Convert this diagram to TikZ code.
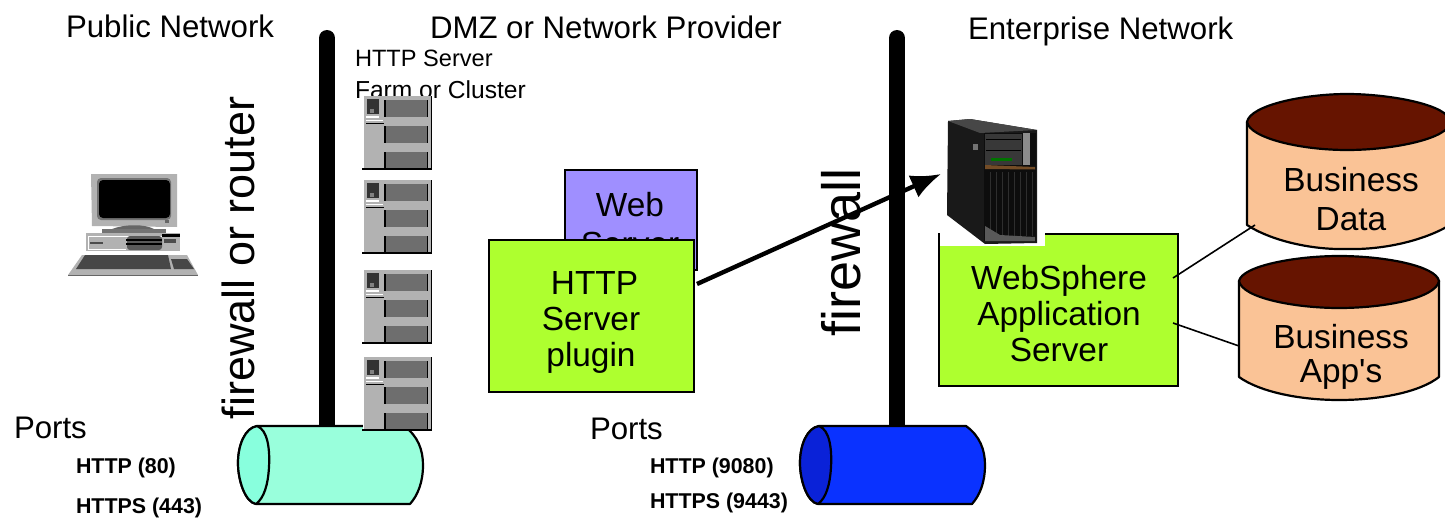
\documentclass[tikz,border=0pt]{standalone}
\usepackage{fontspec}
\setmainfont{Liberation Sans}[Ligatures=TeXOff]
\usetikzlibrary{arrows.meta}
\newcommand{\fsz}[1]{\fontsize{#1}{#1}\selectfont}
\definecolor{lime}{HTML}{AEFF2F}
\definecolor{violet}{HTML}{9F8FFF}
\definecolor{aqua}{HTML}{99FFDC}
\definecolor{aquaend}{HTML}{88FFDD}
\definecolor{royal}{HTML}{0A32FF}
\definecolor{royalend}{HTML}{0A22D8}
\definecolor{peach}{HTML}{FAC396}
\definecolor{maroon}{HTML}{661400}
\definecolor{iconlight}{HTML}{B2B2B2}
\definecolor{icondark}{HTML}{6E6E6E}
\tikzset{
  x=1pt,y=-1pt,
  txt/.style={inner sep=0pt,outer sep=0pt,font=\fsz{31.2},anchor=west},
  small/.style={inner sep=0pt,outer sep=0pt,font=\fsz{23.6},anchor=west},
  port/.style={inner sep=0pt,outer sep=0pt,font=\fsz{21.4}\bfseries,anchor=west},
  rail/.style={line width=16pt,line cap=round,black},
  box/.style={draw=black,line width=2pt,fill=lime,inner sep=0pt,outer sep=0pt,anchor=north west},
  label/.style={inner sep=0pt,outer sep=0pt,font=\fsz{33.4},align=center},
  cyl/.style={draw=black,line width=2.2pt,line join=round},
  link/.style={draw=black,line width=1.6pt},
  serverpic/.pic={
    \fill[iconlight] (0,0) rectangle (68,73);
    \draw[white,line width=1.4pt] (0.5,0) -- (0.5,73);
    \draw[black,line width=2pt] (-1,73) -- (69,73);
    \draw[black,line width=1.5pt] (68.5,0) -- (68.5,73);
    \fill[icondark] (23,4) rectangle (64,21);
    \fill[icondark] (23,30) rectangle (64,47);
    \fill[icondark] (23,56) rectangle (64,72);
    \foreach \t/\b in {4/21,30/47,56/72}{
      \draw[black,line width=1.4pt] (22,\t) -- (22,\b);
      \draw[black,line width=1.4pt] (64.5,\t) -- (64.5,\b);
    }
    \fill[black!80] (4,3) rectangle (16,18);
    \fill[gray] (7,13) rectangle (11,17);
    \draw[white,line width=1.5pt] (3,21) -- (16,21);
    \draw[white,line width=1.5pt] (3,24.5) -- (20,24.5);
    \draw[black,line width=1.8pt] (3,27.5) -- (21,27.5);
  },
}
\begin{document}
\begin{tikzpicture}
\useasboundingbox (0,0) rectangle (1445,519);
% headings
\node[txt] (pub) at (66,26) {Public Network};
\node[txt] (dmz) at (430,27) {DMZ or Network Provider};
\node[txt] (ent) at (968,31.5) {Enterprise Network};
\node[small] (farm1) at (355,58) {HTTP Server};
\node[small,font=\fsz{24.6}] (farm2) at (355,90) {Farm or Cluster};
% rails
\coordinate (r1t) at (327,38); \coordinate (r1b) at (327,432);
\coordinate (r2t) at (897,38); \coordinate (r2b) at (897,432);
\draw[rail] (r1t) -- (r1b);
\draw[rail] (r2t) -- (r2b);
% rotated labels
\node[inner sep=0pt,font=\fsz{45},rotate=90,anchor=center] (fw1) at (238,258) {firewall or router};
\node[inner sep=0pt,font=\fsz{54},rotate=90,anchor=center] (fw2) at (841,252) {firewall};
% aqua cylinder
\path[cyl,fill=aqua] (257,426) -- (404,426) .. controls (418,436) and (423,450) .. (423,465) .. controls (423,482) and (418,495) .. (410,504) -- (256,504) .. controls (245,502) and (238,480) .. (238,463) .. controls (238,445) and (245,428) .. (257,426) -- cycle;
\path[cyl,fill=aquaend] (257,426) .. controls (268,430) and (270,450) .. (269,467) .. controls (268,485) and (264,498) .. (256,504) .. controls (245,502) and (238,480) .. (238,463) .. controls (238,445) and (245,428) .. (257,426) -- cycle;
% blue cylinder
\path[cyl,fill=royal] (819,426) -- (966,426) .. controls (980,436) and (985,450) .. (985,465) .. controls (985,482) and (980,495) .. (972,504) -- (818,504) .. controls (807,502) and (800,480) .. (800,463) .. controls (800,445) and (807,428) .. (819,426) -- cycle;
\path[cyl,fill=royalend] (819,426) .. controls (830,430) and (832,450) .. (831,467) .. controls (830,485) and (826,498) .. (818,504) .. controls (807,502) and (800,480) .. (800,463) .. controls (800,445) and (807,428) .. (819,426) -- cycle;
% server stack
\pic at (363,96) {serverpic};
\pic at (363,180) {serverpic};
\pic at (363,270) {serverpic};
\pic at (363,357) {serverpic};
% PC
\fill[iconlight] (91,174) -- (177,174) -- (177,227) -- (92,226) -- cycle;
\fill[black!55,rounded corners=4pt] (97,178) rectangle (171,220);
\fill[black,rounded corners=4pt] (99,180) rectangle (170,218);
\fill[black!60] (165,220) rectangle (169,223);
\fill[black!60] (112,229) .. controls (125,224) and (145,224) .. (154,229) -- cycle;
\fill[black!55] (102,229) rectangle (166,233);
\fill[iconlight] (86,233) rectangle (180,251);
\draw[white,line width=1pt] (88,236) -- (162,236);
\draw[white,line width=1pt] (88,236) -- (88,249) -- (126,249);
\fill[black!65,rounded corners=3pt] (127,236) rectangle (162,250);
\draw[black,line width=1.3pt] (126,240) -- (162,240);
\draw[black,line width=1.3pt] (126,244) -- (162,244);
\fill[black] (162,234) rectangle (180,237);
\fill[black!70] (164,239) rectangle (176,243);
\fill[black!70] (90,242) rectangle (103,243.5);
\fill[iconlight] (68,275) -- (82,255) -- (187,255) -- (198,275) -- cycle;
\fill[black!72] (76,269) -- (85,255) -- (168,255) -- (171,269) -- cycle;
\fill[black!72] (171,259) -- (187,259) -- (194,269) -- (174,269) -- cycle;
\draw[black!60,line width=1pt] (68,275) -- (198,275);
% Web server (back)
\node[box,fill=violet,minimum width=132pt,minimum height=100pt] (web) at (565,170) {};
\node[label] (webt) at (630,224) {Web\\[6pt]Server};
% HTTP plugin
\node[box,minimum width=205pt,minimum height=152pt] (http) at (489,240) {};
\node[label] (httpt) at (591,322.5) {\hspace*{7pt}HTTP\\[3pt]Server\\[3pt]plugin};
% WebSphere box
\node[box,minimum width=239pt,minimum height=152pt] (was) at (939,234) {};
\node[label] (wast) at (1059,313.5) {WebSphere\\[3pt]Application\\[3pt]Server};
% tower
\fill[white] (940,230) rectangle (1045,246);
\fill[black!90] (948,121) -- (970,119) -- (1037,130) -- (1037,243) -- (985,244) -- (947,215) -- cycle;
\fill[black!72] (948,121) -- (970,119) -- (1037,130) -- (980,133) -- cycle;
\fill[black!95] (984,133) rectangle (1036,241);
\fill[black!78] (985,134) rectangle (1022,165);
\draw[black,line width=.8pt] (986,139) -- (1021,139);
\draw[black,line width=.8pt] (986,150) -- (1021,150);
\fill[black!45] (1023,133) rectangle (1030,165);
\fill[green!45!black] (991,158) rectangle (1012,160.5);
\fill[brown!60!black] (985,165) -- (1035,167) -- (1035,169.5) -- (985,169) -- cycle;
\foreach \x in {990,996,1002,1008,1014,1020,1026,1032}
  \draw[black!82,line width=.7pt] (\x,172) -- (\x,236);
\fill[black!65] (985,226) -- (1000,235) -- (1035,237) -- (1035,241) -- (985,241) -- cycle;
\fill[black!55] (973,144) rectangle (978,150);
% arrow
\coordinate (aS) at (697,284);
\coordinate (aE) at (941,174);
\draw[black,line width=4.4pt,-{Latex[length=30pt,width=24pt]}] (aS) -- (aE);
% DB 1
\path[cyl,fill=peach] (1247,122) -- (1247,225) .. controls (1270,240) and (1310,250) .. (1347,249) .. controls (1385,250) and (1425,240) .. (1450,225) -- (1450,122) -- cycle;
\path[cyl,fill=maroon] (1247,122) .. controls (1250,105) and (1305,94) .. (1347,94) .. controls (1390,94) and (1450,105) .. (1450,122) .. controls (1450,138) and (1395,150) .. (1347,150) .. controls (1300,150) and (1250,138) .. (1247,122) -- cycle;
\node[label] (d1) at (1351,199) {Business\\[6pt]Data};
% DB 2
\path[cyl,fill=peach] (1239,281) -- (1239,377) .. controls (1260,392) and (1300,400) .. (1339,400) .. controls (1380,400) and (1420,392) .. (1439,377) -- (1439,281) -- cycle;
\path[cyl,fill=maroon] (1239,281) .. controls (1242,266) and (1295,256) .. (1339,256) .. controls (1385,256) and (1436,266) .. (1439,281) .. controls (1436,298) and (1385,308) .. (1339,308) .. controls (1295,308) and (1242,298) .. (1239,281) -- cycle;
\node[label] (d2) at (1341,357) {Business\\[1pt]App's};
% links
\coordinate (l1s) at (1173,278); \coordinate (l1e) at (1255,225);
\coordinate (l2s) at (1173,323); \coordinate (l2e) at (1239,346);
\draw[link] (l1s) -- (l1e);
\draw[link] (l2s) -- (l2e);
% ports
\node[txt] (p1) at (14,428) {Ports};
\node[port] (p1a) at (76,468) {HTTP (80)};
\node[port] (p1b) at (76,508) {HTTPS (443)};
\node[txt] (p2) at (590,429) {Ports};
\node[port] (p2a) at (650,468) {HTTP (9080)};
\node[port] (p2b) at (650,503) {HTTPS (9443)};
\end{tikzpicture}
\end{document}
